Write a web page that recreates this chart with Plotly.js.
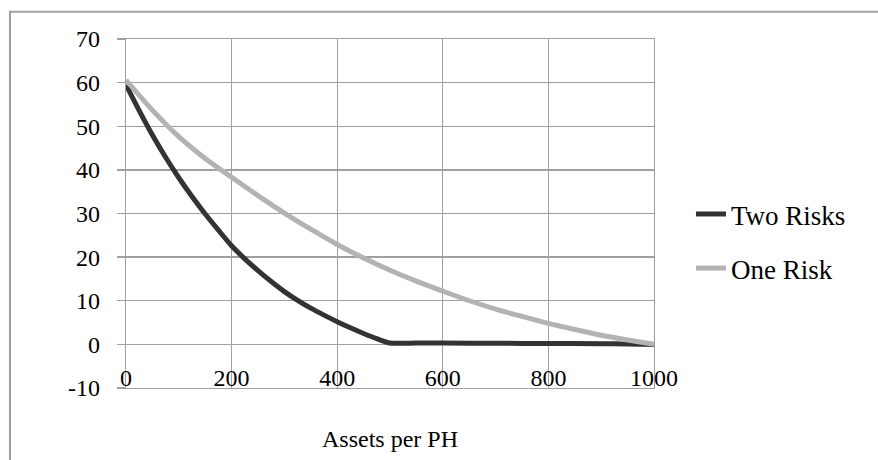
<!DOCTYPE html>
<html>
<head>
<meta charset="utf-8">
<script src="https://cdn.plot.ly/plotly-3.0.1.min.js"></script>
<style>
html,body{margin:0;padding:0;background:#fff;}
#chart{width:878px;height:460px;}
</style>
</head>
<body>
<div id="chart"></div>
<script>
// Data
const seriesNames = ["Two Risks", "One Risk"];

const twoRisksX = [0, 25, 50, 75, 100, 125, 150, 175, 200, 225, 250, 275, 300, 325, 350, 375, 400, 425, 450, 475, 500, 550, 600, 700, 800, 900, 950, 1000];
const twoRisksY = [59.5, 53.6, 48.0, 42.9, 38.2, 33.9, 29.9, 26.2, 22.6, 19.6, 16.9, 14.4, 12.1, 10.1, 8.3, 6.7, 5.2, 3.8, 2.5, 1.3, 0.3, 0.3, 0.3, 0.25, 0.2, 0.15, 0.1, 0];

const oneRiskX = [0, 50, 100, 150, 200, 250, 300, 350, 400, 450, 500, 550, 600, 650, 700, 750, 800, 850, 900, 950, 1000];
const oneRiskY = [60.6, 53.7, 47.6, 42.6, 38.3, 34.1, 30.1, 26.4, 22.9, 19.8, 17.0, 14.5, 12.2, 10.0, 8.1, 6.4, 4.8, 3.4, 2.1, 1.0, 0];

const xTickVals = [0, 200, 400, 600, 800, 1000];
const yTickVals = [-10, 0, 10, 20, 30, 40, 50, 60, 70];
const xTitle = "Assets per PH";

const FONT = "'Liberation Serif', 'Times New Roman', serif";
const GRID = "#a0a0a0";

const traces = [
  {
    x: twoRisksX, y: twoRisksY, type: "scatter", mode: "lines",
    name: seriesNames[0], legendgroup: "a",
    line: {color: "#333333", width: 5, shape: "spline", smoothing: 0.6}
  },
  {
    x: oneRiskX, y: oneRiskY, type: "scatter", mode: "lines",
    name: seriesNames[1], legendgroup: "b",
    line: {color: "#b3b3b3", width: 5, shape: "spline", smoothing: 0.8}
  }
];

const layout = {
  width: 878, height: 460,
  paper_bgcolor: "#ffffff", plot_bgcolor: "#ffffff",
  margin: {l: 126, r: 224, t: 39, b: 72, pad: 0},
  font: {family: FONT, color: "#000000"},
  showlegend: true,
  legend: {
    x: 1.07, xanchor: "left", y: 0.42, yanchor: "middle",
    font: {family: FONT, size: 27, color: "#000"},
    tracegroupgap: 16, bgcolor: "rgba(0,0,0,0)"
  },
  xaxis: {
    range: [0, 1000], tickmode: "array", tickvals: xTickVals,
    ticktext: xTickVals.map(String),
    ticks: "", ticklabelposition: "outside", ticklabelstandoff: -32,
    tickfont: {family: FONT, size: 24, color: "#000"},
    showgrid: true, gridcolor: GRID, gridwidth: 1.3,
    showline: true, linecolor: GRID, linewidth: 1.3, mirror: true,
    zeroline: false, fixedrange: true,
    title: {text: xTitle, font: {family: FONT, size: 24, color: "#000"}, standoff: 40}
  },
  yaxis: {
    range: [-10, 70], tickmode: "array", tickvals: yTickVals,
    ticktext: yTickVals.map(String),
    ticks: "outside", ticklen: 8, tickcolor: GRID, tickwidth: 1.3,
    tickfont: {family: FONT, size: 24, color: "#000"},
    ticklabelstandoff: 12,
    showgrid: true, gridcolor: GRID, gridwidth: 1.3,
    showline: true, linecolor: GRID, linewidth: 1.3, mirror: true,
    zeroline: false, fixedrange: true
  },
  shapes: [{
    type: "rect", xref: "paper", yref: "paper", layer: "below",
    x0: (10 - 126) / 528, x1: 1.6,
    y0: -0.4, y1: (387.7 - 12) / 348.4,
    line: {color: GRID, width: 2}, fillcolor: "rgba(0,0,0,0)"
  }]
};

Plotly.newPlot("chart", traces, layout, {displayModeBar: false, staticPlot: true});
</script>
</body>
</html>
